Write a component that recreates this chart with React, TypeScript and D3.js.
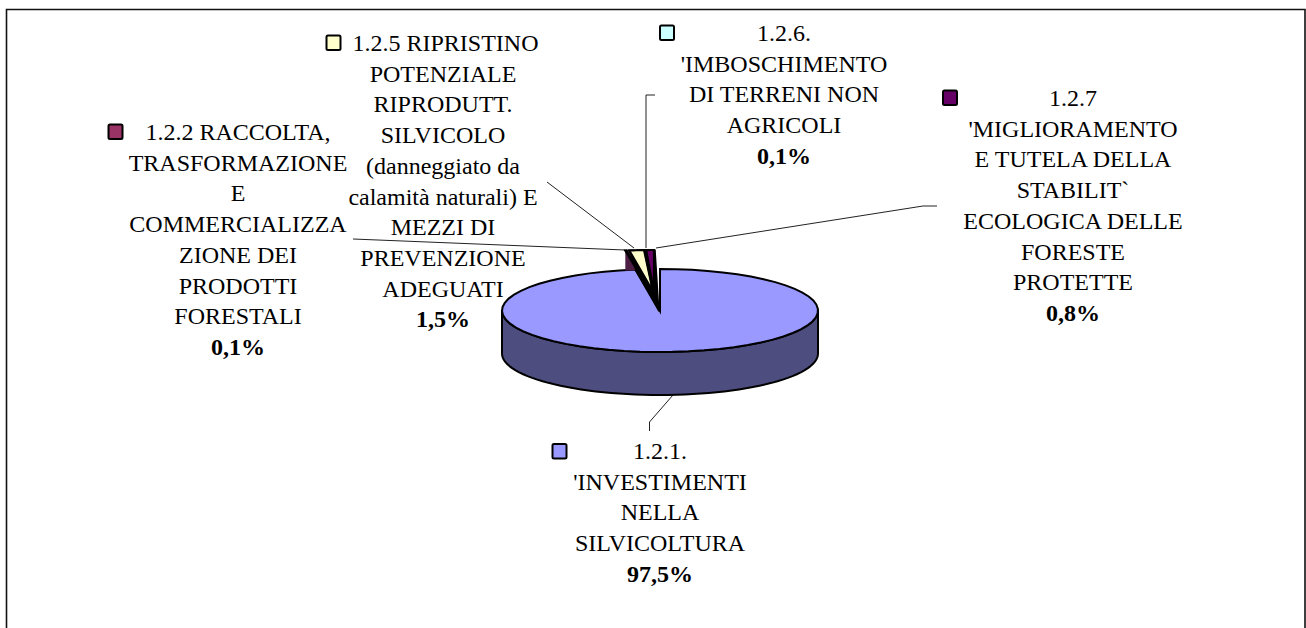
import React from "react";
import * as d3 from "d3";

const sliceNames = ["1.2.1", "1.2.2", "1.2.5", "1.2.6", "1.2.7"];
const sliceValues = [97.5, 0.1, 1.5, 0.1, 0.8];
const sliceColors = ["#9999ff", "#993366", "#ffffcc", "#ccffff", "#660066"];
const percentLabels = ["97,5%", "0,1%", "1,5%", "0,1%", "0,8%"];
const labelLines = [
  ["1.2.1.", "'INVESTIMENTI", "NELLA", "SILVICOLTURA"],
  ["1.2.2 RACCOLTA,", "TRASFORMAZIONE", "E", "COMMERCIALIZZA", "ZIONE DEI", "PRODOTTI", "FORESTALI"],
  ["1.2.5 RIPRISTINO", "POTENZIALE", "RIPRODUTT.", "SILVICOLO", "(danneggiato da", "calamità naturali) E", "MEZZI DI", "PREVENZIONE", "ADEGUATI"],
  ["1.2.6.", "'IMBOSCHIMENTO", "DI TERRENI NON", "AGRICOLI"],
  ["1.2.7", "'MIGLIORAMENTO", "E TUTELA DELLA", "STABILIT`", "ECOLOGICA DELLE", "FORESTE", "PROTETTE"],
];

// layout (kept apart from the data)
const W = 1306, H = 628;
const cx = 660, cy = 310.5, rx = 158, ry = 41.5, depth = 43;
const lineH = 30.72;
const fontSize = 24;
const labelLayout = [
  { x: 660, y: 459, bx: 552.5, by: 444 },
  { x: 238, y: 140, bx: 108.5, by: 124.5 },
  { x: 443, y: 51, bx: 326.5, by: 35.5 },
  { x: 784, y: 41, bx: 660, by: 25.5 },
  { x: 1073, y: 106, bx: 943, by: 90.5 },
];
const textXAdjust: Record<string, number> = { "1.2.5 RIPRISTINO": 2.5 };
const leaders = [
  [[673, 395], [649.5, 422], [649.5, 431]],
  [[353, 239], [625, 250]],
  [[547, 182], [634, 248]],
  [[655, 95], [646, 95], [646, 248]],
  [[937, 206], [923, 206], [656, 248]],
];
const smallOffsets = [[0, 0], [-10, -19], [-7, -19], [-6.5, -19], [-6, -19]];

const project = (a: number, dx = 0, dy = 0): [number, number] => [
  cx + rx * Math.sin(a) + dx,
  cy - ry * Math.cos(a) + dy,
];
const arcPts = (a0: number, a1: number, dx = 0, dy = 0) =>
  d3.range(0, 61).map((i) => project(a0 + ((a1 - a0) * i) / 60, dx, dy));

const line = d3.line<[number, number]>();
const arcs = d3.pie<number>().sort(null).startAngle(0).endAngle(2 * Math.PI)(sliceValues);

export default function App() {
  const blue = arcs[0];
  const apex: [number, number] = [cx, cy + 0.5];
  const blueTop = line([apex, ...arcPts(blue.startAngle, blue.endAngle), apex]) + "Z";
  const frontTop = arcPts(Math.PI / 2, (3 * Math.PI) / 2);
  const frontBottom = arcPts((3 * Math.PI) / 2, Math.PI / 2, 0, depth);
  const wall = line([...frontTop, ...frontBottom]) + "Z";

  const first = arcs[1];
  const last = arcs[arcs.length - 1];
  const [fdx, fdy] = smallOffsets[1];
  const [ldx, ldy] = smallOffsets[4];
  const tl = project(first.startAngle, fdx, fdy);
  const tlLow: [number, number] = [tl[0], tl[1] + 20];
  const bl = project(first.startAngle);
  const tr = project(last.endAngle, ldx + 1, ldy);
  const tip: [number, number] = [cx - 1.2, cy + 0.5];
  const wedge = line([tl, tr, tip, bl, [bl[0], tlLow[1]]]) + "Z";
  const maroonWall =
    line([
      [tl[0], tl[1]],
      [tlLow[0], tlLow[1]],
      [bl[0], tlLow[1]],
      [tl[0] + 4, tl[1]],
    ]) + "Z";

  return (
    <svg
      width={W}
      height={H}
      viewBox={`0 0 ${W} ${H}`}
      style={{ position: "absolute", left: 0, top: 0, display: "block", background: "#fff" }}
    >
      <path
        d={line([[6.5, H], [6.5, 9.5], [1305, 9.5], [1305, H]])!}
        fill="none"
        stroke="#111"
        strokeWidth={1.6}
      />
      {leaders.map((pts, i) => (
        <path key={sliceNames[i]} d={line(pts as [number, number][])!} fill="none" stroke="#222" strokeWidth={1} />
      ))}
      <path d={wall} fill="#4d4d80" stroke="#000" strokeWidth={2} strokeLinejoin="round" />
      <path d={blueTop} fill={sliceColors[0]} stroke="#000" strokeWidth={2} strokeLinejoin="miter" />
      <path d={wedge} fill="#000" stroke="#000" strokeWidth={1.5} strokeLinejoin="round" />
      <path d={maroonWall} fill="#4d1f45" />
      {arcs.slice(1).map((a, k) => {
        const [dx, dy] = smallOffsets[k + 1];
        const ap: [number, number] = [cx + dx, cy + dy];
        const d = line([ap, ...arcPts(a.startAngle, a.endAngle, dx, dy), ap]) + "Z";
        return <path key={sliceNames[k + 1]} d={d} fill={sliceColors[k + 1]} stroke="#000" strokeWidth={2.2} />;
      })}
      {labelLines.map((lines, i) => {
        const l = labelLayout[i];
        return (
          <g key={sliceNames[i]} fontFamily="'Liberation Serif', serif" fontSize={fontSize} fill="#000" textAnchor="middle">
            <rect x={l.bx} y={l.by} width={14} height={14.5} rx={1.5} fill={sliceColors[i]} stroke="#000" strokeWidth={2} />
            {lines.map((t, j) => (
              <text key={j} x={l.x + (textXAdjust[t] || 0)} y={l.y + j * lineH}>
                {t}
              </text>
            ))}
            <text x={l.x} y={l.y + lines.length * lineH} fontWeight="bold">
              {percentLabels[i]}
            </text>
          </g>
        );
      })}
    </svg>
  );
}
